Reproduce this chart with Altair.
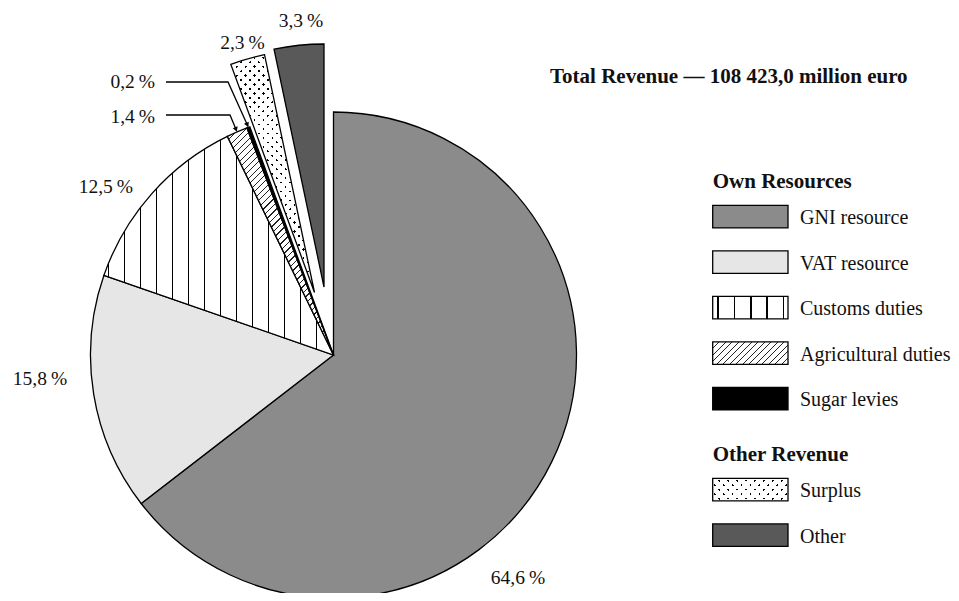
import math
import altair as alt
import pandas as pd

# ---------------- data ----------------
categories = ["GNI resource", "VAT resource", "Customs duties", "Agricultural duties",
              "Sugar levies", "Surplus", "Other"]
shares = [64.6, 15.8, 12.5, 1.4, 0.2, 2.3, 3.3]
groups = ["Own Resources", "Own Resources", "Own Resources", "Own Resources",
          "Own Resources", "Other Revenue", "Other Revenue"]
group_titles = ["Own Resources", "Other Revenue"]
chart_title = "Total Revenue \u2014 108 423,0 million euro"

# ---------------- layout / style ----------------
M = 8  # page margin
VIEW_W, VIEW_H = 959 - 2 * M, 601 - 2 * M
CX, CY, R = 333.5 - M, 355.0 - M, 243.0
EXPLODE = {"Surplus": (-19.0, -62.5), "Other": (-9.5, -68.0)}
FONT = "Liberation Serif"
LABEL_SIZE = 19.5
LEG_SIZE = 20
HEAD_SIZE = 21

# label anchor (page px: x, baseline y, align)
LABEL_POS = {
    "GNI resource": (518, 584, "center"),
    "VAT resource": (40, 385, "center"),
    "Customs duties": (133, 193, "right"),
    "Agricultural duties": (155, 123, "right"),
    "Sugar levies": (155, 88, "right"),
    "Surplus": (242.5, 48.5, "center"),
    "Other": (301, 27, "center"),
}
# leader lines: start x, y, elbow x, y (page px)
LEADERS = {
    "Agricultural duties": (166, 115, 230, 115),
    "Sugar levies": (166, 82, 228, 82),
}
LEG_X0, LEG_X1, LEG_TEXT_X = 712.7 - M, 788.0 - M, 800.0 - M
LEG_Y0, LEG_STEP, SW_H = 216.7 - M, 45.5, 22.5
TITLE_X, TITLE_Y = 550 - M, 83 - M

COLORS = {
    "GNI resource": "#8b8b8b",
    "VAT resource": "#e6e6e6",
    "Sugar levies": "#000000",
    "Other": "#595959",
}
STROKE_W = 1.3


# ---------------- gradient helpers (patterns) ----------------
def stripe_stops(L, period, width, phase, fg, bg):
    stops = [(0.0, bg)]
    k = math.floor(-phase / period) - 1
    while True:
        c = phase + k * period
        a, b = c - width / 2, c + width / 2
        if a > L:
            break
        if b > 0:
            a2, b2 = max(a, 0) / L, min(b, L) / L
            stops += [(a2, bg), (a2, fg), (b2, fg), (b2, bg)]
        k += 1
    stops.append((1.0, bg))
    return [{"offset": round(o, 5), "color": c} for o, c in stops]


def lin(x1, y1, x2, y2, stops):
    return {"gradient": "linear", "x1": x1, "y1": y1, "x2": x2, "y2": y2, "stops": stops}


def diag(W, H, direction, period, width, fg, bg, phase=0.0):
    c = (W + H) / (W * W + H * H)
    L = (W + H) / math.sqrt(2)
    stops = stripe_stops(L, period, width, phase, fg, bg)
    if direction == "/":
        return lin(0, 0, c * W, c * H, stops)
    return lin(0, 1, c * W, 1 - c * H, stops)


def fills_for(name, W, H, stripe_phase=None, stripe_period=16.3):
    if name == "Customs duties":
        ph = 5.5 if stripe_phase is None else stripe_phase
        return [lin(0, 0, 1, 0, stripe_stops(W, stripe_period, 1.5, ph, "#000000", "#ffffff"))]
    if name == "Agricultural duties":
        return [diag(W, H, "/", 4.6, 0.85, "#222222", "#ffffff")]
    if name == "Surplus":
        return [diag(W, H, "/", 6.3, 1.7, "#000000", "#ffffff"),
                diag(W, H, "\\", 6.3, 1.7, "rgba(255,255,255,0)", "#ffffff")]
    return [COLORS[name]]


def arc_bbox(a0, a1, r):
    pts = [(0.0, 0.0), (r * math.sin(a0), -r * math.cos(a0)), (r * math.sin(a1), -r * math.cos(a1))]
    for q in [0, math.pi / 2, math.pi, 1.5 * math.pi, 2 * math.pi]:
        if a0 < q < a1:
            pts.append((r * math.sin(q), -r * math.cos(q)))
    xs = [p[0] for p in pts]
    ys = [p[1] for p in pts]
    return min(xs), min(ys), max(xs), max(ys)


# ---------------- pie table ----------------
total = sum(shares)
starts, ends, acc = [], [], 0.0
for v in shares:
    starts.append(acc / total * 2 * math.pi)
    acc += v
    ends.append(acc / total * 2 * math.pi)

def fmt(v):
    return f"{v:.1f}".replace(".", ",") + "\u2009%"

pie_df = pd.DataFrame({"cat": categories, "share": shares, "start": starts, "end": ends,
                       "label": [fmt(v) for v in shares]})

layers = []

for name, a0, a1 in zip(categories, starts, ends):
    dx, dy = EXPLODE.get(name, (0.0, 0.0))
    minx, miny, maxx, maxy = arc_bbox(a0, a1, R)
    W, H = maxx - minx, maxy - miny
    phase = None
    if name == "Customs duties":
        # stripes at x = centre - 17.2 - 16k
        phase = (-17.2 - minx) % 16.0
    fills = fills_for(name, W, H, stripe_phase=phase, stripe_period=16.0)
    for i, f in enumerate(fills):
        last = i == len(fills) - 1
        kw = dict(radius=R, fill=f)
        if last:
            kw.update(stroke="#000000", strokeWidth=STROKE_W, strokeJoin="miter")
        else:
            kw.update(strokeWidth=0)
        layers.append(
            alt.Chart(pie_df).transform_filter(alt.datum.cat == name)
            .mark_arc(**kw)
            .encode(theta=alt.Theta("start:Q", scale=None, stack=None),
                    theta2="end:Q",
                    x=alt.value(CX + dx), y=alt.value(CY + dy))
        )

# ---------------- percentage labels ----------------
lab_df = pie_df.copy()
lab_df["lx"] = [LABEL_POS[c][0] - M for c in categories]
lab_df["ly"] = [LABEL_POS[c][1] - M for c in categories]
lab_df["al"] = [LABEL_POS[c][2] for c in categories]
for al in ["center", "right"]:
    layers.append(
        alt.Chart(lab_df).transform_filter(alt.datum.al == al)
        .mark_text(font=FONT, fontSize=LABEL_SIZE, align=al, baseline="alphabetic", color="#111111")
        .encode(x=alt.X("lx:Q", scale=None, axis=None), y=alt.Y("ly:Q", scale=None, axis=None),
                text="label:N")
    )

# ---------------- leader lines with arrows ----------------
line_rows, arrow_rows = [], []
for name, (sx, sy, ex, ey) in LEADERS.items():
    i = categories.index(name)
    mid = (starts[i] + ends[i]) / 2
    tx, ty = CX + (R + 1) * math.sin(mid), CY - (R + 1) * math.cos(mid)
    pts = [(sx - M, sy - M), (ex - M, ey - M), (tx, ty)]
    for k, (px, py) in enumerate(pts):
        line_rows.append({"id": name, "ord": k, "x": px, "y": py})
    ddx, ddy = tx - (ex - M), ty - (ey - M)
    ln = math.hypot(ddx, ddy)
    ang = math.degrees(math.atan2(ddx, -ddy)) % 360
    arrow_rows.append({"id": name, "x": tx - 2.5 * ddx / ln, "y": ty - 2.5 * ddy / ln, "ang": ang})

layers.append(
    alt.Chart(pd.DataFrame(line_rows)).mark_line(color="#000000", strokeWidth=1.3)
    .encode(x=alt.X("x:Q", scale=None, axis=None), y=alt.Y("y:Q", scale=None, axis=None),
            detail="id:N", order="ord:Q")
)
layers.append(
    alt.Chart(pd.DataFrame(arrow_rows)).mark_point(shape="triangle", filled=True, size=28,
                                                   color="#000000", opacity=1)
    .encode(x=alt.X("x:Q", scale=None, axis=None), y=alt.Y("y:Q", scale=None, axis=None),
            angle=alt.Angle("ang:Q", scale=None))
)

# ---------------- legend ----------------
rows, heads = [], []
r = -1
for g in group_titles:
    heads.append({"text": g, "row": r})
    r += 1
    for c, gg in zip(categories, groups):
        if gg == g:
            rows.append({"cat": c, "row": r})
            r += 1

leg_df = pd.DataFrame(rows)
leg_df["yc"] = LEG_Y0 + leg_df["row"] * LEG_STEP
leg_df["y0"] = leg_df["yc"] - SW_H / 2
leg_df["y1"] = leg_df["yc"] + SW_H / 2
leg_df["x0"] = LEG_X0
leg_df["x1"] = LEG_X1
leg_df["tx"] = LEG_TEXT_X
leg_df["ty"] = leg_df["yc"] + 7.5

sw_w = LEG_X1 - LEG_X0
for name in categories:
    fills = fills_for(name, sw_w, SW_H)
    for i, f in enumerate(fills):
        last = i == len(fills) - 1
        kw = dict(fill=f)
        if last:
            kw.update(stroke="#000000", strokeWidth=STROKE_W)
        else:
            kw.update(strokeWidth=0)
        layers.append(
            alt.Chart(leg_df).transform_filter(alt.datum.cat == name)
            .mark_rect(**kw)
            .encode(x=alt.X("x0:Q", scale=None, axis=None), x2="x1:Q",
                    y=alt.Y("y0:Q", scale=None, axis=None), y2="y1:Q")
        )

layers.append(
    alt.Chart(leg_df).mark_text(font=FONT, fontSize=LEG_SIZE, align="left",
                                baseline="alphabetic", color="#111111")
    .encode(x=alt.X("tx:Q", scale=None, axis=None), y=alt.Y("ty:Q", scale=None, axis=None),
            text="cat:N")
)

head_df = pd.DataFrame(heads)
head_df["tx"] = LEG_X0
head_df["ty"] = LEG_Y0 + head_df["row"] * LEG_STEP + 16.8
title_df = pd.DataFrame([{"text": chart_title, "tx": TITLE_X, "ty": TITLE_Y}])
for d in [head_df, title_df]:
    layers.append(
        alt.Chart(d).mark_text(font=FONT, fontSize=HEAD_SIZE, fontWeight="bold", align="left",
                               baseline="alphabetic", color="#111111")
        .encode(x=alt.X("tx:Q", scale=None, axis=None), y=alt.Y("ty:Q", scale=None, axis=None),
                text="text:N")
    )

chart = (
    alt.layer(*layers)
    .properties(width=VIEW_W, height=VIEW_H, padding=0,
                autosize=alt.AutoSizeParams(type="none"), background="#ffffff")
    .configure_view(stroke=None)
)

chart.save("out.html", embed_options={"renderer": "svg", "actions": False})
